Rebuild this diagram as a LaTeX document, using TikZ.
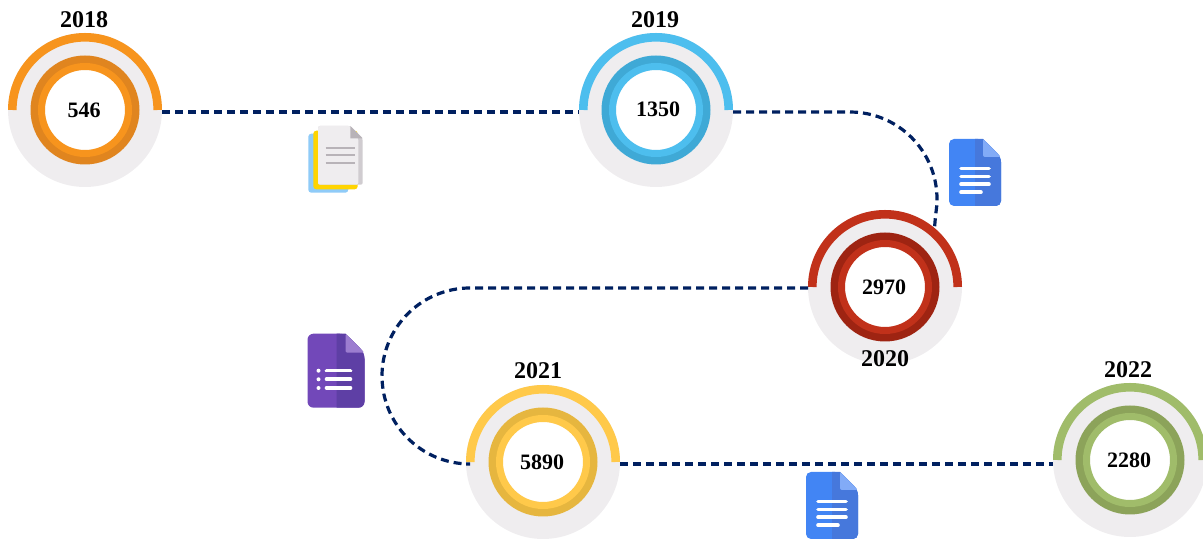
\documentclass[tikz,border=0pt]{standalone}
\usepackage{xcolor}
\usepackage{fontspec}
\setmainfont{Liberation Serif}
\usetikzlibrary{positioning,calc}

\definecolor{navy}{HTML}{002060}
\definecolor{discgray}{HTML}{EFEDEF}
\definecolor{orangeA}{HTML}{F7941D}
\definecolor{orangeB}{HTML}{E0851F}
\definecolor{blueA}{HTML}{4DBEEE}
\definecolor{blueB}{HTML}{3FA9D6}
\definecolor{redA}{HTML}{C1311A}
\definecolor{redB}{HTML}{9E2412}
\definecolor{yellowA}{HTML}{FFC94A}
\definecolor{yellowB}{HTML}{E6B63F}
\definecolor{greenA}{HTML}{A0BC6A}
\definecolor{greenB}{HTML}{8CA35A}

\tikzset{
  pics/bluedoc/.style={code={
    \fill[fill={rgb,255:red,66;green,133;blue,244},rounded corners=5] (0,0) -- (0,67) -- (34,67) -- (52,49) -- (52,0) -- cycle;
    \fill[fill={rgb,255:red,70;green,120;blue,220},rounded corners=5] (26,0) -- (52,0) -- (52,49) [sharp corners] -- (34,67) -- (26,67) -- cycle;
    \fill[fill={rgb,255:red,130;green,171;blue,247},rounded corners=2] (34,67) -- (52,49) -- (34,49) -- cycle;
    \draw[docline] (12,37.5) -- (40,37.5);
    \draw[docline] (12,29.5) -- (40,29.5);
    \draw[docline] (12,21.7) -- (40,21.7);
    \draw[docline] (12,13.7) -- (32,13.7);
  }},
  pics/purpledoc/.style={code={
    \fill[fill={rgb,255:red,114;green,72;blue,185},rounded corners=6] (0,0) -- (0,74) -- (38,74) -- (57,55) -- (57,0) -- cycle;
    \fill[fill={rgb,255:red,94;green,63;blue,165},rounded corners=6] (29,0) -- (57,0) -- (57,55) [sharp corners] -- (38,74) -- (29,74) -- cycle;
    \fill[fill={rgb,255:red,156;green,125;blue,208},rounded corners=2] (38,74) -- (57,55) -- (38,55) -- cycle;
    \fill[white] (11,37) circle (2);
    \fill[white] (11,28.4) circle (2);
    \fill[white] (11,19.7) circle (2);
    \draw[docline] (19,37) -- (43,37);
    \draw[docline] (19,28.4) -- (43,28.4);
    \draw[docline] (19,19.7) -- (43,19.7);
  }},
  pics/filestack/.style={code={
    \fill[fill={rgb,255:red,143;green,203;blue,248},rounded corners=3] (0,0) rectangle (40,59);
    \fill[fill={rgb,255:red,255;green,212;blue,0},rounded corners=3] (5,3.4) rectangle (49.4,62);
    \fill[fill={rgb,255:red,208;green,204;blue,208},rounded corners=2] (9.7,8) -- (9.7,66.7) -- (42,66.7) -- (54.4,54.4) -- (54.4,8) -- cycle;
    \fill[discgray,rounded corners=2] (9.7,8) -- (9.7,66.7) -- (42,66.7) -- (50,54.4) -- (50,8) -- cycle;
    \fill[fill={rgb,255:red,184;green,179;blue,184}] (42,66.7) -- (54.4,54.4) -- (42,54.4) -- cycle;
    \draw[sheetline] (17.4,45) -- (46.7,45);
    \draw[sheetline] (17.4,37.7) -- (46.7,37.7);
    \draw[sheetline] (17.4,30) -- (46.7,30);
  }}
}

\begin{document}
\begin{tikzpicture}[x=1pt, y=1pt, node distance=5pt,
    disc/.style={circle,fill=discgray,minimum size=154pt,inner sep=0pt,outer sep=0pt},
    backring/.style={circle,fill=#1,minimum size=109pt,inner sep=0pt,outer sep=0pt},
    whitering/.style={circle,draw=#1,fill=white,line width=7pt,minimum size=87pt,inner sep=0pt},
    value/.style={inner sep=0pt,font=\fontsize{22}{22}\selectfont\bfseries},
    band/.style={draw=#1,line width=8.6pt},
    year/.style={inner sep=0pt,font=\fontsize{24}{24}\selectfont\bfseries},
    docline/.style={white,line width=3.6pt,line cap=round},
    sheetline/.style={draw={rgb,255:red,184;green,179;blue,184},line width=1.8pt},
    link/.style={navy,line width=3.2pt,dash pattern=on 8pt off 5pt}]
    \clip (0,0) rectangle (1203,540);

    \node[disc] (A) at (85,430) {};
    \node[disc] (B) at (656,430) {};
    \node[disc] (C) at (885,253) {};
    \node[disc] (D) at (543,78) {};
    \node[disc] (E) at (1130,80) {};

    % Upper half bands
    \draw[band=orangeA] ([xshift=4.3pt]A.west) arc[start angle=180,end angle=0,radius=72.7];
    \draw[band=blueA] ([xshift=4.3pt]B.west) arc[start angle=180,end angle=0,radius=72.7];
    \draw[band=redA] ([xshift=4.3pt]C.west) arc[start angle=180,end angle=0,radius=72.7];
    \draw[band=yellowA] ([xshift=4.3pt]D.west) arc[start angle=180,end angle=0,radius=72.7];
    \draw[band=greenA] ([xshift=4.3pt]E.west) arc[start angle=180,end angle=0,radius=72.7];

    % Inner rings
    \node[backring=orangeB] (Aback) at (A) {};
    \node[backring=blueB] (Bback) at (B) {};
    \node[backring=redB] (Cback) at (C) {};
    \node[backring=yellowB] (Dback) at (D) {};
    \node[backring=greenB] (Eback) at (E) {};
    \node[whitering=orangeA] (Aring) at (A) {};
    \node[whitering=blueA] (Bring) at (B) {};
    \node[whitering=redA] (Cring) at (C) {};
    \node[whitering=yellowA] (Dring) at (D) {};
    \node[whitering=greenA] (Ering) at (E) {};

    % Values and years
    \node[value, xshift=-1pt] (Aval) at (A) {546};
    \node[value, xshift=2pt, yshift=1pt] (Bval) at (B) {1350};
    \node[value, xshift=-1pt] (Cval) at (C) {2970};
    \node[value, xshift=-1pt] (Dval) at (D) {5890};
    \node[value, xshift=-1pt] (Eval) at (E) {2280};
    \node[year, xshift=-1pt] (Ayear) [above=5pt of A] {2018};
    \node[year, xshift=-1pt] (Byear) [above=5pt of B] {2019};
    \node[year] (Cyear) [below=-14pt of C] {2020};
    \node[year, xshift=-5pt, yshift=1pt] (Dyear) [above=5pt of D] {2021};
    \node[year, xshift=-2pt] (Eyear) [above=5pt of E] {2022};

    % Dashed route
    \coordinate (Cin) at ($(C)+(50:77)$);
    \draw[link] ([yshift=-2pt]A.east) -- ([yshift=-2pt]B.west);
    \draw[link] ([yshift=-2pt]B.east) -- (850,428) arc[start angle=90,end angle=-10,radius=87] -- (Cin);
    \draw[link] ([yshift=-1pt]C.west) -- (470,252) arc[start angle=90,end angle=270,radius=88] -- ([yshift=-2pt]D.west);
    \draw[link] ([yshift=-2pt]D.east) -- ([yshift=-4pt]E.west);

    % Document icons
    \pic at (949,334) {bluedoc};
    \pic at (806,1) {bluedoc};
    \pic at (307.5,132.3) {purpledoc};
    \pic at (308.3,347.3) {filestack};
\end{tikzpicture}
\end{document}
